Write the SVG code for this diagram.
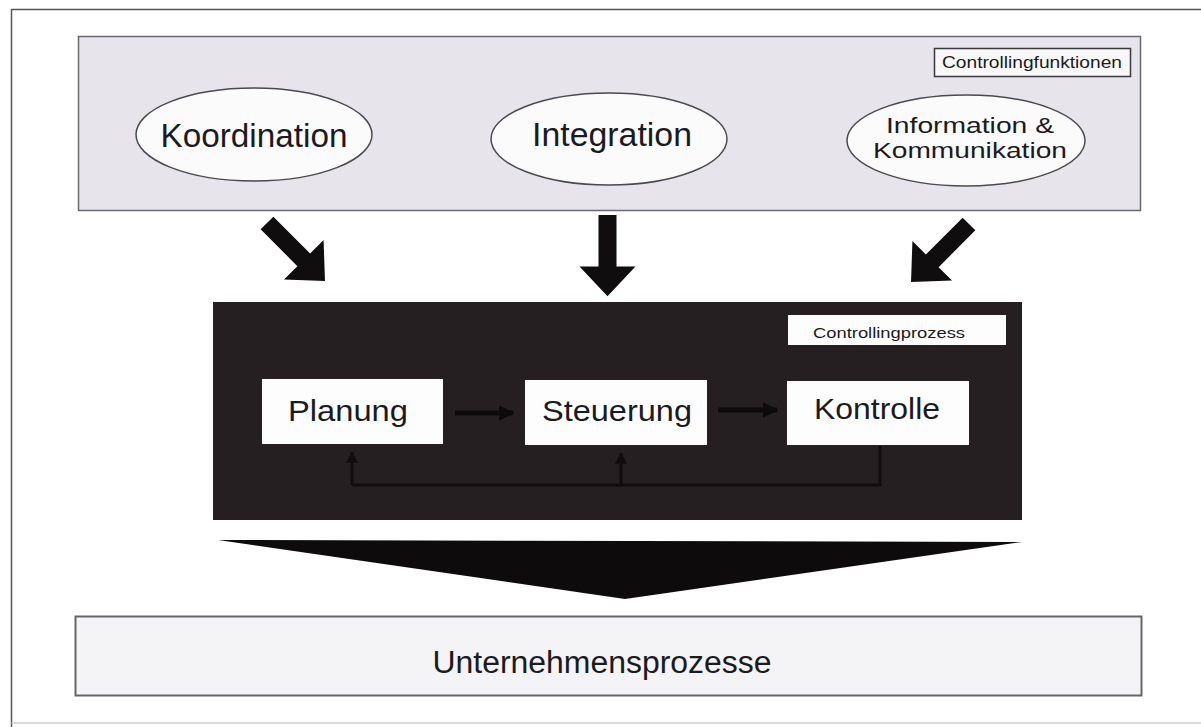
<svg xmlns="http://www.w3.org/2000/svg" width="1201" height="727" viewBox="0 0 1201 727">
  <style>
    .lbl { font-family: "Liberation Sans", Arial, sans-serif; fill: #1b1a1c; text-anchor: middle; }
    .oval { fill: #fbfbfc; stroke: #4a4a4e; stroke-width: 1.5; }
    .step { fill: #fdfdfd; }
    .big-arrow { fill: #0f0d0e; }
    .flow { stroke: #0c0a0b; stroke-width: 5; fill: none; }
    .back { stroke: #110d0e; stroke-width: 3; fill: none; }
  </style>
  <defs>
    <!-- thick block arrow pointing along +y, origin at the tail centre -->
    <path id="blockArrow" d="M-9,0 L9,0 L9,52 L28,52 L0,82 L-28,52 L-9,52 Z"/>
    <marker id="smallHead" viewBox="0 0 10 10" refX="9" refY="5" markerWidth="3.2" markerHeight="3.2" orient="auto" markerUnits="strokeWidth">
      <path d="M0,0 L10,5 L0,10 Z" fill="#0c0a0b"/>
    </marker>
    <marker id="upHead" viewBox="0 0 10 10" refX="9" refY="5" markerWidth="4" markerHeight="4" orient="auto" markerUnits="strokeWidth">
      <path d="M0,0 L10,5 L0,10 Z" fill="#110d0e"/>
    </marker>
  </defs>

  <rect width="1201" height="727" fill="#ffffff"/>

  <!-- page frame -->
  <path d="M1201,9.5 L11.5,9.5 L11.5,727" fill="none" stroke="#555" stroke-width="1.5"/>
  <line x1="11.5" y1="723" x2="1201" y2="723" stroke="#cfcfd2" stroke-width="1.5"/>

  <!-- controlling functions panel -->
  <g id="functions-panel">
    <rect x="78.5" y="36.5" width="1062" height="174" fill="#e7e5eb" stroke="#6a6a6e" stroke-width="1.5"/>
    <rect x="934.5" y="48.5" width="196" height="28" fill="#f8f8f9" stroke="#3a3a3d" stroke-width="1.5"/>
    <text class="lbl" x="1032" y="68" font-size="16" textLength="180" lengthAdjust="spacingAndGlyphs">Controllingfunktionen</text>
  </g>

  <g id="koordination">
    <ellipse class="oval" cx="254" cy="134.5" rx="118" ry="46.5"/>
    <text class="lbl" x="254" y="147" font-size="33" textLength="187" lengthAdjust="spacingAndGlyphs">Koordination</text>
  </g>

  <g id="integration">
    <ellipse class="oval" cx="609" cy="139" rx="118" ry="46"/>
    <text class="lbl" x="612" y="146" font-size="33" textLength="160" lengthAdjust="spacingAndGlyphs">Integration</text>
  </g>

  <g id="information">
    <ellipse class="oval" cx="966" cy="140.5" rx="119" ry="45.5"/>
    <text class="lbl" x="970" y="133" font-size="22" textLength="168" lengthAdjust="spacingAndGlyphs">Information &amp;</text>
    <text class="lbl" x="970" y="158" font-size="22" textLength="194" lengthAdjust="spacingAndGlyphs">Kommunikation</text>
  </g>

  <!-- controlling process panel -->
  <g id="process-panel">
    <rect x="213" y="302" width="809" height="218" fill="#261f21"/>
    <rect x="788" y="315" width="218" height="30" fill="#fdfdfd"/>
    <text class="lbl" x="889" y="338" font-size="15" textLength="152" lengthAdjust="spacingAndGlyphs">Controllingprozess</text>
  </g>

  <g id="planung">
    <rect class="step" x="262" y="379" width="181" height="65"/>
    <text class="lbl" x="348" y="421" font-size="30" textLength="120" lengthAdjust="spacingAndGlyphs">Planung</text>
  </g>

  <g id="steuerung">
    <rect class="step" x="525" y="380" width="182" height="65"/>
    <text class="lbl" x="617" y="421" font-size="30" textLength="150" lengthAdjust="spacingAndGlyphs">Steuerung</text>
  </g>

  <g id="kontrolle">
    <rect class="step" x="787" y="381" width="182" height="64"/>
    <text class="lbl" x="877" y="419" font-size="30" textLength="126" lengthAdjust="spacingAndGlyphs">Kontrolle</text>
  </g>

  <!-- enterprise processes -->
  <g id="unternehmensprozesse">
    <rect x="75.5" y="616.5" width="1066" height="79" fill="#f4f3f6" stroke="#666669" stroke-width="2"/>
    <text class="lbl" x="602" y="673" font-size="31" textLength="339" lengthAdjust="spacingAndGlyphs">Unternehmensprozesse</text>
  </g>

  <g id="connectors">
    <!-- functions feeding the process -->
    <use href="#blockArrow" class="big-arrow" transform="translate(267,223) rotate(-45)"/>
    <use href="#blockArrow" class="big-arrow" transform="translate(607.5,215) scale(1,0.99)"/>
    <use href="#blockArrow" class="big-arrow" transform="translate(969,224) rotate(45)"/>

    <!-- process sequence -->
    <line class="flow" x1="455" y1="413" x2="513" y2="413" marker-end="url(#smallHead)"/>
    <line class="flow" x1="718" y1="410" x2="777" y2="410" marker-end="url(#smallHead)"/>

    <!-- feedback loop -->
    <path class="back" d="M880,446 L880,485 L352,485"/>
    <line class="back" x1="352" y1="485" x2="352" y2="452" marker-end="url(#upHead)"/>
    <line class="back" x1="621" y1="485" x2="621" y2="453" marker-end="url(#upHead)"/>

    <!-- process acting on the enterprise -->
    <polygon points="218,540 1022,542 625,599" fill="#0e0b0c"/>
  </g>
</svg>
